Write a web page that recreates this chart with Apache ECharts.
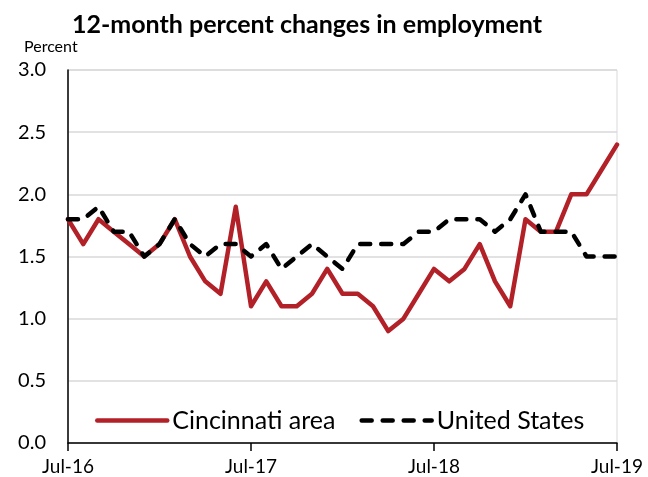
<!DOCTYPE html>
<html>
<head>
<meta charset="utf-8">
<script src="https://cdn.jsdelivr.net/npm/echarts@6/dist/echarts.min.js"></script>
<style>
	html, body { margin: 0; padding: 0; background: #fff; }
	#chart { width: 648px; height: 477px; }
</style>
</head>
<body>
<div id="chart"></div>
<script>
// months Jul-16 .. Jul-19
var months = [
	"Jul-16", "Aug-16", "Sep-16", "Oct-16", "Nov-16", "Dec-16",
	"Jan-17", "Feb-17", "Mar-17", "Apr-17", "May-17", "Jun-17",
	"Jul-17", "Aug-17", "Sep-17", "Oct-17", "Nov-17", "Dec-17",
	"Jan-18", "Feb-18", "Mar-18", "Apr-18", "May-18", "Jun-18",
	"Jul-18", "Aug-18", "Sep-18", "Oct-18", "Nov-18", "Dec-18",
	"Jan-19", "Feb-19", "Mar-19", "Apr-19", "May-19", "Jun-19",
	"Jul-19"
];
var tickLabels = ["Jul-16", "Jul-17", "Jul-18", "Jul-19"];

var cincinnati = [
	1.8, 1.6, 1.8, 1.7, 1.6, 1.5,
	1.6, 1.8, 1.5, 1.3, 1.2, 1.9,
	1.1, 1.3, 1.1, 1.1, 1.2, 1.4,
	1.2, 1.2, 1.1, 0.9, 1.0, 1.2,
	1.4, 1.3, 1.4, 1.6, 1.3, 1.1,
	1.8, 1.7, 1.7, 2.0, 2.0, 2.2,
	2.4
];
var unitedStates = [
	1.8, 1.8, 1.9, 1.7, 1.7, 1.5,
	1.6, 1.8, 1.6, 1.5, 1.6, 1.6,
	1.5, 1.6, 1.4, 1.5, 1.6, 1.5,
	1.4, 1.6, 1.6, 1.6, 1.6, 1.7,
	1.7, 1.8, 1.8, 1.8, 1.7, 1.8,
	2.0, 1.7, 1.7, 1.7, 1.5, 1.5,
	1.5
];

var font = "Lato";
var chart = echarts.init(document.getElementById("chart"));

var option = {
	animation: false,
	textStyle: { fontFamily: font, color: "#000" },
	title: [
		{
			text: "12-month percent changes in employment",
			left: 302,
			top: 7,
			textAlign: "center",
			textStyle: { fontFamily: font, fontSize: 25, fontWeight: "bold", color: "#000" }
		},
		{
			text: "Percent",
			left: 19,
			top: 34,
			textStyle: { fontFamily: font, fontSize: 16, fontWeight: "normal", color: "#000" }
		}
	],
	legend: {
		left: 90,
		top: 403,
		itemWidth: 70,
		itemHeight: 28,
		itemGap: 24,
		textStyle: { fontFamily: font, fontSize: 25, color: "#000" },
		itemStyle: { opacity: 0 },
		lineStyle: { width: 4.5 },
		data: ["Cincinnati area", "United States"]
	},
	grid: {
		left: 68,
		right: 31,
		top: 70,
		bottom: 34,
		show: true,
		borderColor: "#d9d9d9",
		borderWidth: 1
	},
	xAxis: {
		type: "category",
		data: months,
		boundaryGap: false,
		axisLine: { lineStyle: { color: "#000", width: 1.5 } },
		axisTick: {
			length: 8,
			lineStyle: { color: "#000", width: 1.5 },
			interval: function (i) { return i % 12 == 0; }
		},
		axisLabel: {
			fontSize: 19,
			margin: 14,
			color: "#000",
			interval: function (i, v) { return tickLabels.indexOf(v) >= 0; }
		},
		splitLine: { show: false }
	},
	yAxis: {
		type: "value",
		min: 0,
		max: 3,
		interval: 0.5,
		axisLine: { show: true, lineStyle: { color: "#000", width: 1.5 } },
		axisTick: { show: false },
		axisLabel: {
			fontSize: 20,
			margin: 22,
			color: "#000",
			formatter: function (v) { return v.toFixed(1); }
		},
		splitLine: { lineStyle: { color: "#d9d9d9", width: 1.5 } }
	},
	series: [
		{
			name: "Cincinnati area",
			type: "line",
			data: cincinnati,
			showSymbol: false,
			symbol: "none",
			itemStyle: { color: "#b22028" },
			lineStyle: { color: "#b22028", width: 4.5, cap: "round", join: "round" },
			z: 3
		},
		{
			name: "United States",
			type: "line",
			data: unitedStates,
			showSymbol: false,
			symbol: "none",
			itemStyle: { color: "#000" },
			lineStyle: { color: "#000", width: 4.5, type: [10, 11], cap: "round", join: "round" },
			z: 4
		}
	]
};

chart.setOption(option);
</script>
</body>
</html>
